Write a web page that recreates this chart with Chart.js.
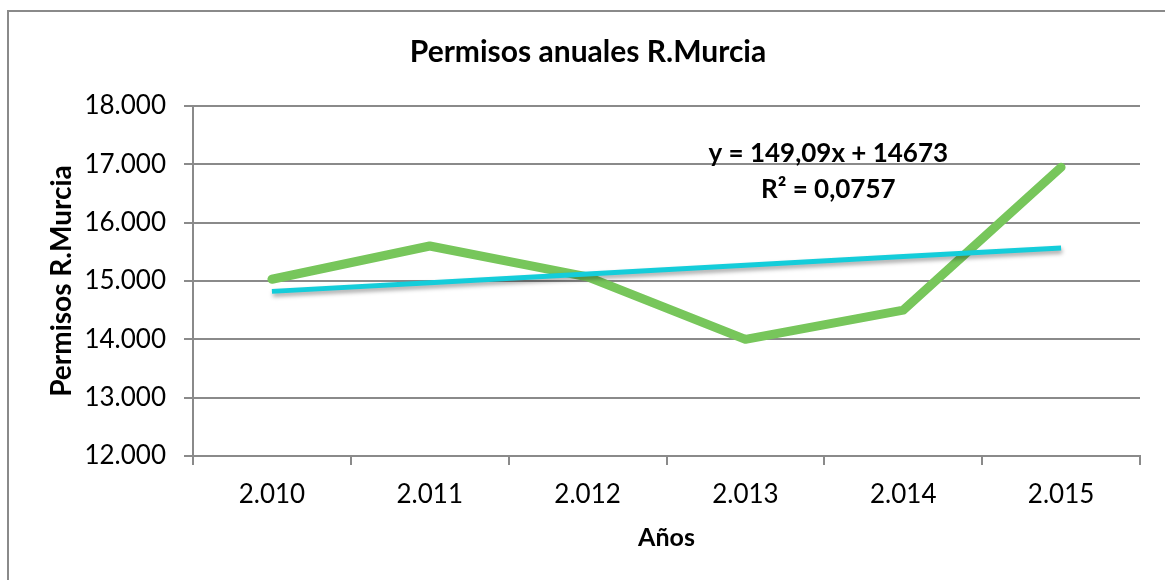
<!DOCTYPE html>
<html>
<head>
<meta charset="utf-8">
<script src="https://cdn.jsdelivr.net/npm/chart.js@4.4.0/dist/chart.umd.min.js"></script>
<style>
  body { margin: 0; background: #fff; }
  canvas { display: block; }
</style>
</head>
<body>
<canvas id="myChart" width="1165" height="580"></canvas>
<script>
// Data
const years = ['2.010', '2.011', '2.012', '2.013', '2.014', '2.015'];
const permisos = [15030, 15600, 15070, 14000, 14500, 16950];

// Trendline as printed on the chart: y = 149,09x + 14673
const trendSlope = 149.09;
const trendIntercept = 14673;
const trendLabel = ['y = 149,09x + 14673', 'R² = 0,0757'];
const trend = years.map((_, i) => trendSlope * (i + 1) + trendIntercept);

const FONT = 'Lato, "Open Sans", sans-serif';
const GRID = '#8a8a8a';

// Outer frame of the chart object
const framePlugin = {
  id: 'frame',
  beforeDraw(chart) {
    const ctx = chart.ctx;
    ctx.save();
    ctx.fillStyle = '#fff';
    ctx.fillRect(0, 0, chart.width, chart.height);
    ctx.strokeStyle = GRID;
    ctx.lineWidth = 2;
    ctx.strokeRect(8, 11, chart.width + 20, chart.height + 20);
    ctx.restore();
  }
};

// Shadow under the trendline
const shadowPlugin = {
  id: 'trendShadow',
  beforeDatasetDraw(chart, args) {
    if (args.index !== 1) return;
    const ctx = chart.ctx;
    ctx.save();
    ctx.shadowColor = 'rgba(0,0,0,0.35)';
    ctx.shadowBlur = 4;
    ctx.shadowOffsetX = 1;
    ctx.shadowOffsetY = 3;
  },
  afterDatasetDraw(chart, args) {
    if (args.index !== 1) return;
    chart.ctx.restore();
  }
};

// Equation label, placed through the scales
const equationPlugin = {
  id: 'equation',
  afterDatasetsDraw(chart) {
    const { ctx, scales } = chart;
    const x = scales.x.getPixelForValue(3.525);
    const y = scales.y.getPixelForValue(17190);
    ctx.save();
    ctx.font = 'bold 26px ' + FONT;
    ctx.fillStyle = '#000';
    ctx.textAlign = 'center';
    ctx.textBaseline = 'middle';
    ctx.fillText(trendLabel[0], x, y);
    ctx.fillText(trendLabel[1], x, y + 36);
    ctx.restore();
  }
};

new Chart(document.getElementById('myChart').getContext('2d'), {
  type: 'line',
  data: {
    labels: years,
    datasets: [{
      label: 'Permisos',
      data: permisos,
      borderColor: '#77c65b',
      borderWidth: 9,
      borderCapStyle: 'round',
      borderJoinStyle: 'round',
      pointRadius: 0,
      tension: 0,
      order: 1
    }, {
      label: 'Tendencia',
      data: trend,
      borderColor: '#14cdda',
      borderWidth: 5,
      pointRadius: 0,
      tension: 0,
      order: 0
    }]
  },
  options: {
    responsive: false,
    animation: false,
    layout: { padding: { left: 36, right: 25, top: 0, bottom: 0 } },
    plugins: {
      legend: { display: false },
      tooltip: { enabled: false },
      title: {
        display: true,
        text: 'Permisos anuales R.Murcia',
        color: '#000',
        font: { family: FONT, size: 30, weight: 'bold', lineHeight: 1.2 },
        padding: { top: 34, bottom: 36 }
      }
    },
    scales: {
      x: {
        offset: true,
        grid: { offset: true, drawOnChartArea: false, tickLength: 9, color: GRID, lineWidth: 2 },
        border: { color: GRID, width: 2 },
        ticks: { color: '#000', padding: 14, font: { family: FONT, size: 26 }, maxRotation: 0 },
        title: {
          display: true,
          text: 'Años',
          color: '#000',
          font: { family: FONT, size: 25, weight: 'bold', lineHeight: 1.2 },
          padding: { top: 0, bottom: 27 }
        },
        afterFit(scale) { scale.height = 124; }
      },
      y: {
        min: 12000,
        max: 18000,
        grid: { tickLength: 9, color: GRID, lineWidth: 2 },
        border: { color: GRID, width: 2 },
        ticks: {
          stepSize: 1000,
          color: '#000',
          padding: 18,
          font: { family: FONT, size: 26 },
          callback: v => v.toLocaleString('de-DE', { minimumFractionDigits: 0 }).replace(',', '.')
        },
        title: {
          display: true,
          text: 'Permisos R.Murcia',
          color: '#000',
          font: { family: FONT, size: 28, weight: 'bold', lineHeight: 1.2 },
          padding: { top: 9, bottom: 0 }
        },
        afterFit(scale) { scale.width = 157; }
      }
    }
  },
  plugins: [framePlugin, shadowPlugin, equationPlugin]
});
</script>
</body>
</html>
